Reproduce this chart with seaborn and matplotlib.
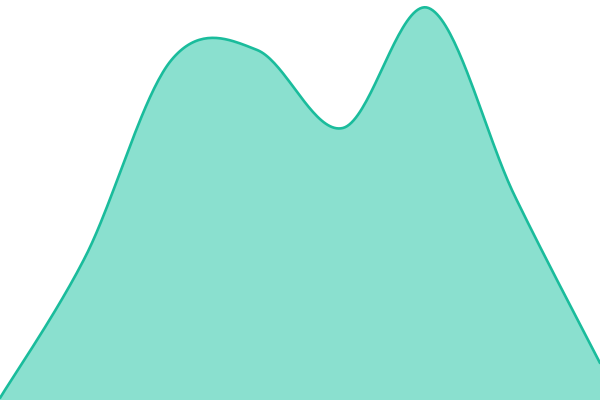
import numpy as np
import pandas as pd
import matplotlib
matplotlib.use("Agg")
import matplotlib.pyplot as plt
import seaborn as sns

# data (8 equally spaced points)
steps = [0, 1, 2, 3, 4, 5, 6, 7]
values = [2, 144, 340, 350, 272, 392, 205, 37]

LINE = "#1abc9c"
FILL = "#8ae0cf"


def catmull_rom(xs, ys, n=40):
    """Smooth curve through the points (cardinal spline, tension 0)"""
    xs = np.asarray(xs, dtype=float)
    ys = np.asarray(ys, dtype=float)
    px = np.concatenate([[xs[0]], xs, [xs[-1]]])
    py = np.concatenate([[ys[0]], ys, [ys[-1]]])
    out_x, out_y = [], []
    t = np.linspace(0, 1, n, endpoint=False)
    for i in range(1, len(px) - 2):
        for p, out in ((px, out_x), (py, out_y)):
            p0, p1, p2, p3 = p[i - 1], p[i], p[i + 1], p[i + 2]
            m1 = (p2 - p0) / 2
            m2 = (p3 - p1) / 2
            h00 = 2 * t**3 - 3 * t**2 + 1
            h10 = t**3 - 2 * t**2 + t
            h01 = -2 * t**3 + 3 * t**2
            h11 = t**3 - t**2
            out.extend(h00 * p1 + h10 * m1 + h01 * p2 + h11 * m2)
    out_x.append(xs[-1])
    out_y.append(ys[-1])
    return np.array(out_x), np.array(out_y)


sx, sy = catmull_rom(steps, values)
curve = pd.DataFrame({"step": sx, "value": sy})

sns.set_theme(style="white")
fig = plt.figure(figsize=(6, 4), dpi=100)
ax = fig.add_axes([0, 0, 1, 1])

ax.fill_between(curve["step"], curve["value"], 0, color=FILL, linewidth=0)
sns.lineplot(data=curve, x="step", y="value", color=LINE, linewidth=1.9,
             sort=False, estimator=None, ax=ax)

ax.set_xlim(steps[0], steps[-1])
ax.set_ylim(0, 400)
ax.set_axis_off()

fig.savefig("out.png", dpi=100, facecolor="white")
